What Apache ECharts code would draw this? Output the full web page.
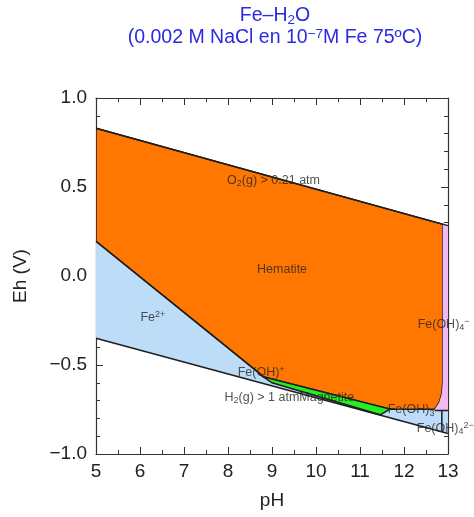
<!DOCTYPE html>
<html>
<head>
<meta charset="utf-8">
<script src="https://cdn.jsdelivr.net/npm/echarts@6/dist/echarts.min.js"></script>
<style>html,body{margin:0;padding:0;background:#fff}#c{width:474px;height:517px}</style>
</head>
<body>
<div id="c"></div>
<script>
// ---- data (pH, Eh) ----
const o2Line = [[5, 0.83], [13, 0.283]];
const h2Line = [[5, -0.35], [13, -0.885]];
const fe2Boundary = [[5, 0.195], [8.78, -0.56]];
const hematite = [[5, 0.83], [12.88, 0.29], [12.88, -0.60], [12.86, -0.66], [12.80, -0.71], [12.70, -0.748], [11.68, -0.748], [8.80, -0.566], [8.78, -0.56], [5, 0.195]];
const aqueous = [[5, 0.195], [8.78, -0.56], [11.68, -0.748], [13, -0.755], [13, -0.885], [5, -0.35]];
const magnetite = [[8.80, -0.566], [11.68, -0.748], [11.46, -0.78], [9.0, -0.60]];
const feoh4 = [[12.88, 0.29], [13, 0.283], [13, -0.755], [12.70, -0.755], [12.70, -0.748], [12.80, -0.71], [12.86, -0.66], [12.88, -0.60]];
const feoh4Bottom = [[12.70, -0.755], [13, -0.755]];
const feoh3Boundary = [[12.86, -0.755], [12.86, -0.876]];
const labelPoints = [
  [7.98, 0.534, 'O{sub|2}(g) > 0.21 atm'],
  [8.66, 0.034, 'Hematite'],
  [6.01, -0.236, 'Fe{sup|2+}'],
  [8.22, -0.545, 'Fe(OH){sup|+}'],
  [7.92, -0.685, 'H{sub|2}(g) > 1 atmMagnetite'],
  [11.63, -0.753, 'Fe(OH){sub|3}'],
  [12.31, -0.275, 'Fe(OH){sub|4}{sup|−}'],
  [12.29, -0.857, 'Fe(OH){sub|4}{sup|2−}']
];
const xRange = [5, 13];
const yRange = [-1, 1];

const chart = echarts.init(document.getElementById('c'));
const LINE = '#1e1e1e';
const FONT = 'Liberation Sans, Arial, sans-serif';

function polySeries(name, pts, fill, stroke, z) {
  return {
    type: 'custom', name: name, data: pts, z: z, silent: true, clip: true,
    renderItem: function (params, api) {
      if (params.dataIndex !== 0) return null;
      const coords = pts.map(p => api.coord(p));
      return { type: 'polygon', shape: { points: coords },
        style: { fill: fill, stroke: stroke || 'none', lineWidth: stroke ? 1.5 : 0 } };
    }
  };
}
function lineSeries(name, pts, z) {
  return { type: 'line', name: name, data: pts, z: z, showSymbol: false, silent: true,
    lineStyle: { color: LINE, width: 1.5 } };
}
const rich = {
  t: { fontSize: 12.5, color: '#262626', fontFamily: FONT },
  sub: { fontSize: 9, color: '#262626', verticalAlign: 'bottom', padding: [6, 0, 0, 0], fontFamily: FONT },
  sup: { fontSize: 9, color: '#262626', verticalAlign: 'top', padding: [0, 0, 6, 0], fontFamily: FONT }
};

const axisCommon = {
  axisLine: { show: true, onZero: false, lineStyle: { color: '#333', width: 1.2 } },
  axisTick: { show: true, inside: true, length: 7, lineStyle: { color: '#333' } },
  minorTick: { show: true, length: 4, lineStyle: { color: '#333' } },
  splitLine: { show: false }
};

chart.setOption({
  animation: false,
  backgroundColor: '#fff',
  title: {
    text: 'Fe–H{s|2}O\n(0.002 M NaCl en 10{p|−7}M Fe 75ºC)',
    left: 275, textAlign: 'center', top: 5, padding: 0,
    textStyle: {
      fontSize: 19.5, fontWeight: 'normal', color: '#2a2ae0', lineHeight: 22,
      fontFamily: FONT,
      rich: {
        s: { fontSize: 13.5, color: '#2a2ae0', verticalAlign: 'bottom', padding: [8, 0, 0, 0], fontFamily: FONT },
        p: { fontSize: 13.5, color: '#2a2ae0', verticalAlign: 'top', padding: [0, 0, 8, 0], fontFamily: FONT }
      }
    }
  },
  grid: { left: 96, right: 26, top: 98, bottom: 63 },
  xAxis: [
    Object.assign({}, axisCommon, {
      type: 'value', position: 'bottom', min: xRange[0], max: xRange[1], interval: 1,
      minorTick: Object.assign({}, axisCommon.minorTick, { splitNumber: 2 }),
      axisLabel: { fontSize: 19, color: '#222', margin: 8, fontFamily: FONT },
      name: 'pH', nameLocation: 'middle', nameGap: 37,
      nameTextStyle: { fontSize: 19, color: '#222', fontFamily: FONT }
    }),
    Object.assign({}, axisCommon, {
      type: 'value', position: 'top', min: xRange[0], max: xRange[1], interval: 1,
      minorTick: Object.assign({}, axisCommon.minorTick, { splitNumber: 2 }),
      axisLabel: { show: false }
    })
  ],
  yAxis: [
    Object.assign({}, axisCommon, {
      type: 'value', position: 'left', min: yRange[0], max: yRange[1], interval: 0.5,
      minorTick: Object.assign({}, axisCommon.minorTick, { splitNumber: 5 }),
      axisLabel: { fontSize: 19, color: '#222', margin: 9, fontFamily: FONT,
        formatter: v => v.toFixed(1).replace('-', '−') },
      name: 'Eh (V)', nameLocation: 'middle', nameGap: 66, nameRotate: 90,
      nameTextStyle: { fontSize: 19, color: '#222', fontFamily: FONT }
    }),
    Object.assign({}, axisCommon, {
      type: 'value', position: 'right', min: yRange[0], max: yRange[1], interval: 0.5,
      minorTick: Object.assign({}, axisCommon.minorTick, { splitNumber: 5 }),
      axisLabel: { show: false }
    })
  ],
  series: [
    polySeries('aqueous', aqueous, '#bcdcf8', null, 1),
    polySeries('hematite', hematite, '#ff7700', LINE, 2),
    polySeries('magnetite', magnetite, '#22ee22', LINE, 3),
    polySeries('feoh4', feoh4, '#f2b8f2', null, 2),
    lineSeries('o2', o2Line, 5),
    lineSeries('h2', h2Line, 5),
    lineSeries('fe2', fe2Boundary, 5),
    lineSeries('feoh4b', feoh4Bottom, 5),
    lineSeries('feoh3b', feoh3Boundary, 5),
    {
      type: 'scatter', data: labelPoints, symbolSize: 0, z: 10, silent: true, clip: false,
      label: {
        show: true, position: 'inside', align: 'left', verticalAlign: 'middle',
        formatter: p => '{t|' + p.data[2].replace(/\{(sub|sup)\|([^}]*)\}/g, '}{$1|$2}{t|') + '}',
        rich: rich
      }
    }
  ]
});
</script>
</body>
</html>
